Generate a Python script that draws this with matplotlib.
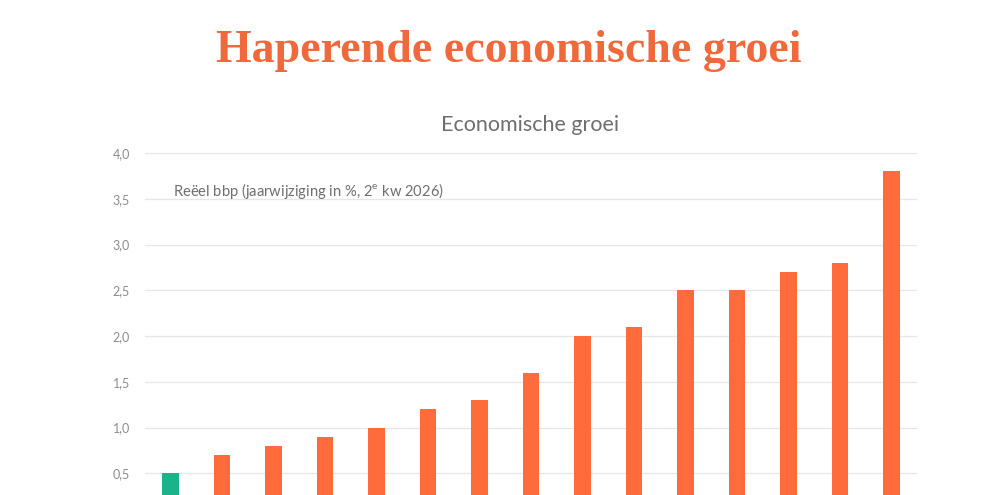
import matplotlib.pyplot as plt

BG = "#FFFFFF"
ORANGE = "#FF6B3A"
GREEN = "#1BB38A"
TITLE_C = "#F0693C"
GRID = "#E6E6E6"
TICK = "#8C8C8C"
SUB = "#6E6E6E"

# category labels sit below the visible crop, so only positions are used
values = [0.5, 0.7, 0.8, 0.9, 1.0, 1.2, 1.3, 1.6, 2.0, 2.1, 2.5, 2.5, 2.7, 2.8, 3.8]
colors = [GREEN] + [ORANGE] * (len(values) - 1)
yticks = [0.5, 1.0, 1.5, 2.0, 2.5, 3.0, 3.5, 4.0]

fig = plt.figure(figsize=(10, 4.95), dpi=100)
fig.patch.set_facecolor(BG)
ax = fig.add_axes([0.145, -0.0485, 0.772, 0.7394])
ax.set_facecolor(BG)

x = list(range(len(values)))
ax.bar(x, values, width=0.32, color=colors, zorder=3)
ax.set_xlim(-0.5, len(values) - 0.5)
ax.set_ylim(0, 4.0)
ax.set_yticks(yticks)
ax.set_yticklabels([f"{t:.1f}".replace(".", ",") for t in yticks], color=TICK, fontsize=9,
                   family="Lato")
ax.tick_params(axis='y', length=0, pad=11)
ax.tick_params(axis='x', length=0, labelbottom=False)
ax.grid(axis='y', color=GRID, linewidth=0.9, zorder=0)
for s in ax.spines.values():
    s.set_visible(False)

fig.text(0.509, 0.896, "Haperende economische groei", color=TITLE_C, ha='center', va='center',
         fontsize=33, fontweight='bold', family="Liberation Serif")
fig.text(0.53, 0.748, "Economische groei", color=SUB, ha='center', va='center', fontsize=15.5,
         family="Lato")
ax.text(0.04, 3.58, "Reëel bbp (jaarwijziging in %, 2$^{\\mathregular{e}}$ kw 2026)", color=SUB,
        ha='left', va='center', fontsize=10.6, family="Lato", transform=ax.transData)

fig.savefig("out.png", dpi=100, facecolor=BG)
